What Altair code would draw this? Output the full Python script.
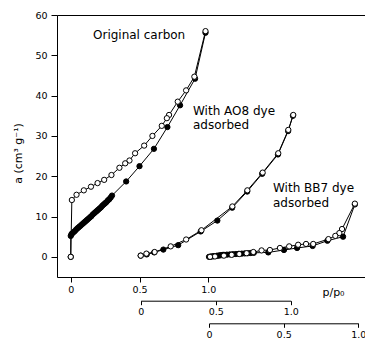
import altair as alt
import pandas as pd

FONT = "DejaVu Sans"

# ---------------- data ----------------
# Original carbon, adsorption (filled)
orig_ads_p = [0.0, 0.0, 0.005, 0.01, 0.02, 0.03, 0.04, 0.05, 0.06, 0.07, 0.08, 0.09, 0.10,
              0.11, 0.12, 0.13, 0.14, 0.15, 0.16, 0.17, 0.18, 0.19, 0.20, 0.21, 0.22,
              0.23, 0.24, 0.25, 0.26, 0.27, 0.28, 0.29, 0.30, 0.403, 0.50, 0.605,
              0.703, 0.795, 0.904, 0.98]
orig_ads_a = [0.0, 5.2, 5.6, 5.8, 6.1, 6.4, 6.8, 7.1, 7.4, 7.7, 8.0, 8.3, 8.6,
              8.9, 9.2, 9.5, 9.8, 10.1, 10.5, 10.8, 11.1, 11.4, 11.7, 12.0, 12.3,
              12.7, 13.0, 13.3, 13.6, 14.0, 14.3, 14.7, 15.2, 18.7, 22.5, 26.8,
              32.2, 37.6, 44.2, 55.6]
# Original carbon, desorption (open)
orig_des_p = [0.98, 0.899, 0.839, 0.778, 0.715, 0.699, 0.662, 0.594, 0.534, 0.468,
              0.427, 0.396, 0.354, 0.296, 0.243, 0.195, 0.147, 0.095, 0.042, 0.008, 0.0]
orig_des_a = [56.0, 44.7, 41.3, 38.5, 35.2, 34.4, 32.5, 30.0, 27.6, 25.7,
              23.9, 23.2, 22.1, 20.3, 19.1, 18.3, 17.4, 16.5, 15.4, 14.1, 0.0]

# With AO8 dye adsorbed (own p/p0 axis)
ao8_ads_p = [0.0, 0.04, 0.09, 0.151, 0.25, 0.40, 0.511, 0.61, 0.71, 0.81, 0.915, 0.983, 1.015]
ao8_ads_a = [0.3, 0.6, 1.1, 1.8, 2.9, 6.3, 9.0, 12.2, 16.2, 20.6, 25.4, 31.2, 35.0]
ao8_des_p = [1.017, 0.984, 0.917, 0.813, 0.711, 0.611, 0.405, 0.303, 0.20, 0.093, 0.038, 0.0]
ao8_des_a = [35.2, 31.5, 25.7, 20.9, 16.5, 12.5, 6.6, 4.3, 2.6, 1.2, 0.8, 0.3]

# With BB7 dye adsorbed (own p/p0 axis)
bb7_ads_p = [0.0, 0.01, 0.02, 0.03, 0.04, 0.05, 0.06, 0.07, 0.08, 0.09, 0.10, 0.12, 0.14,
             0.16, 0.18, 0.20, 0.22, 0.24, 0.26, 0.28, 0.30, 0.397, 0.502, 0.59, 0.694,
             0.793, 0.898, 0.977]
bb7_ads_a = [0.0, 0.05, 0.1, 0.15, 0.2, 0.25, 0.3, 0.35, 0.4, 0.45, 0.5, 0.55, 0.6,
             0.65, 0.7, 0.75, 0.8, 0.85, 0.9, 0.95, 1.0, 1.1, 1.7, 2.2, 2.7,
             4.0, 5.0, 13.0]
bb7_des_p = [0.977, 0.891, 0.873, 0.846, 0.80, 0.698, 0.65, 0.597, 0.537, 0.475, 0.408,
             0.352, 0.297, 0.252, 0.203, 0.152, 0.10, 0.04, 0.007]
bb7_des_a = [13.2, 6.9, 5.9, 5.2, 4.4, 3.2, 3.2, 3.0, 2.6, 2.2, 1.7,
             1.6, 1.2, 0.9, 0.7, 0.5, 0.3, 0.1, 0.0]

y_ticks = [0, 10, 20, 30, 40, 50, 60]
x_ticks = [0, 0.5, 1.0]

# ---------------- chart ----------------
W, H = 308, 262

y_axis = alt.Axis(values=y_ticks, tickSize=6, labelPadding=4, labelFontSize=9.5,
                  labelFont=FONT, labelColor="black", tickColor="black",
                  domainColor="black", grid=False,
                  title="a (cm\u00b3 g\u207b\u00b9)", titleFont=FONT, titleFontSize=11,
                  titleFontWeight="normal", titleColor="black", titleAngle=270,
                  titleX=-39, titleY=138, titleAlign="center", titleBaseline="middle")
y_enc = alt.Y("a:Q", scale=alt.Scale(domain=[-5, 60], nice=False, zero=False), axis=y_axis)

label_expr = "datum.value == 0 ? '0' : format(datum.value, '.1f')"


def sub_axis(offset, title=None, **kw):
    args = dict(orient="bottom", values=x_ticks, labelExpr=label_expr, offset=offset,
                tickSize=4, labelPadding=2, labelFontSize=9.5, labelFont=FONT,
                labelColor="black", tickColor="black", domainColor="black",
                grid=False, labelFlush=False, labelOverlap=False)
    args.update(kw)
    if title is not None:
        args["title"] = title
    else:
        args["title"] = None
    return alt.Axis(**args)


def df(p, a):
    return pd.DataFrame({"p": p, "a": a, "i": list(range(len(p)))})


def sample(ads_p, ads_a, des_p, des_a, xscale, xaxis, texts):
    x = alt.X("p:Q", scale=xscale, axis=xaxis)
    ads = df(ads_p, ads_a)
    des = df(des_p, des_a)
    layers = [
        alt.Chart(ads).mark_line(color="black", strokeWidth=1).encode(x=x, y=y_enc, order="i:Q"),
        alt.Chart(ads).mark_circle(size=28, color="black", stroke="black", strokeWidth=1,
                                   opacity=1).encode(x=x, y=y_enc),
        alt.Chart(des).mark_line(color="black", strokeWidth=1).encode(x=x, y=y_enc, order="i:Q"),
        alt.Chart(des).mark_circle(size=28, fill="white", stroke="black", strokeWidth=1,
                                   opacity=1).encode(x=x, y=y_enc),
    ]
    for txt, px, py in texts:
        layers.append(
            alt.Chart(pd.DataFrame({"t": [txt]})).mark_text(
                font=FONT, fontSize=12, align="left", baseline="middle", color="black"
            ).encode(text="t:N", x=alt.value(px), y=alt.value(py))
        )
    return alt.layer(*layers)


main_scale = alt.Scale(domain=[-0.1, 2.14], nice=False, zero=False)
main_axis = sub_axis(0, title="p/p\u2080", tickSize=5, titleX=276, titleY=15,
                     titleAlign="center", titleBaseline="middle", titleFont=FONT,
                     titleFontSize=11, titleFontWeight="normal", titleColor="black")

orig = sample(orig_ads_p, orig_ads_a, orig_des_p, orig_des_a, main_scale, main_axis,
              [("Original carbon", 36, 20)])
ao8 = sample(ao8_ads_p, ao8_ads_a, ao8_des_p, ao8_des_a,
             alt.Scale(domain=[0, 1], range=[83.7, 233.7], nice=False, zero=False),
             sub_axis(23.7),
             [("With AO8 dye", 136, 96), ("adsorbed", 136, 110)])
bb7 = sample(bb7_ads_p, bb7_ads_a, bb7_des_p, bb7_des_a,
             alt.Scale(domain=[0, 1], range=[152, 301.3], nice=False, zero=False),
             sub_axis(46.3),
             [("With BB7 dye", 216, 173), ("adsorbed", 216, 188)])

top_line = alt.Chart(df(orig_des_p, orig_des_a)).mark_circle(opacity=0).encode(
    x=alt.X("p:Q", scale=main_scale,
            axis=alt.Axis(orient="top", ticks=False, labels=False, title=None,
                          grid=False, domainColor="black")),
    y=y_enc,
)

chart = alt.layer(orig, ao8, bb7, top_line).resolve_scale(x="independent").properties(
    width=W, height=H,
    autosize=alt.AutoSizeParams(type="none"),
    padding={"left": 57, "top": 15, "right": 0, "bottom": 63},
).configure_view(stroke=None).configure(background="white")

chart.save("out.html", embed_options={"renderer": "svg", "actions": False})
